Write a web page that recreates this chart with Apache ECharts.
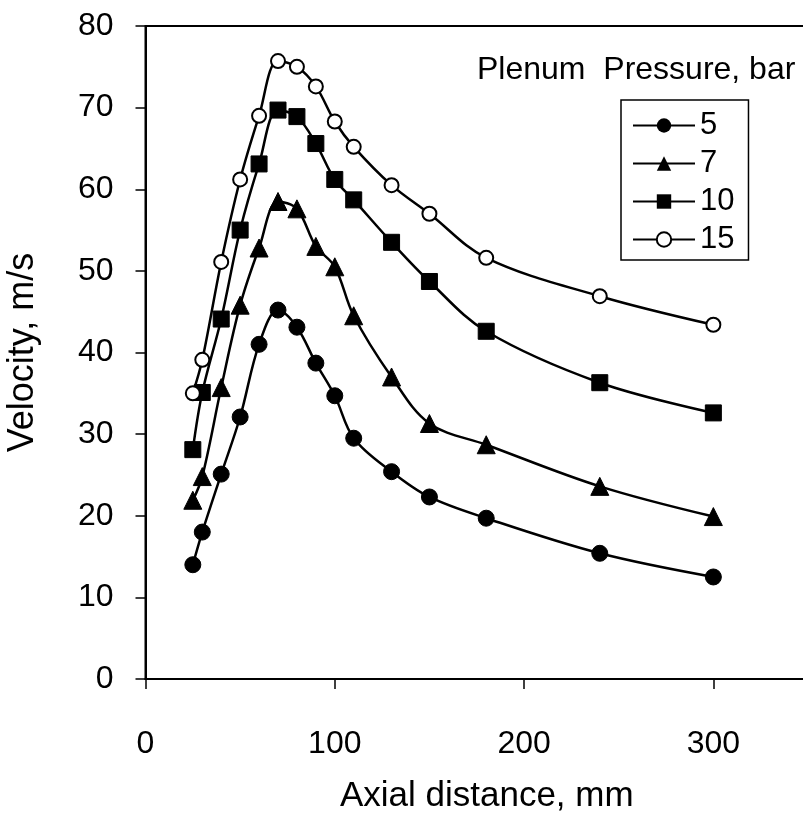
<!DOCTYPE html>
<html>
<head>
<meta charset="utf-8">
<script src="https://cdn.jsdelivr.net/npm/echarts@6/dist/echarts.min.js"></script>
<style>html,body{margin:0;padding:0;background:#fff;}#c{width:803px;height:814px;}</style>
</head>
<body>
<div id="c"></div>
<script>
const xDist = [25, 30, 40, 50, 60, 70, 80, 90, 100, 110, 130, 150, 180, 240, 300];
const v5  = [14.0, 18.0, 25.1, 32.1, 41.0, 45.2, 43.1, 38.7, 34.7, 29.5, 25.4, 22.3, 19.7, 15.4, 12.5];
const v7  = [21.9, 24.8, 35.7, 45.8, 52.8, 58.5, 57.6, 53.0, 50.5, 44.5, 37.0, 31.3, 28.7, 23.6, 19.9];
const v10 = [28.1, 35.1, 44.1, 55.0, 63.1, 69.7, 68.9, 65.6, 61.2, 58.7, 53.5, 48.7, 42.6, 36.3, 32.6];
const v15 = [35.0, 39.1, 51.1, 61.2, 69.0, 75.7, 75.0, 72.6, 68.3, 65.2, 60.5, 57.0, 51.6, 46.9, 43.4];
const seriesNames = ['5', '7', '10', '15'];
const xTicks = [0, 100, 200, 300];
const yTicks = [0, 10, 20, 30, 40, 50, 60, 70, 80];

const FONT = 'Liberation Sans, Arial, sans-serif';
const chart = echarts.init(document.getElementById('c'), null, {renderer: 'canvas'});

function mk(name, vals, symbol, size, extra) {
  return Object.assign({
    name: name,
    type: 'line',
    data: xDist.map((x, i) => [x, vals[i]]),
    smooth: 0.35,
    symbol: symbol,
    symbolSize: size,
    showAllSymbol: true,
    lineStyle: {color: '#000', width: 2.5},
    itemStyle: {color: '#000', borderColor: '#000'},
    emphasis: {disabled: true},
    z: 3
  }, extra || {});
}

chart.setOption({
  animation: false,
  backgroundColor: '#fff',
  title: {
    text: 'Plenum  Pressure, bar',
    left: 472, top: 49,
    textStyle: {fontFamily: FONT, fontSize: 32, fontWeight: 'normal', color: '#000'}
  },
  grid: {
    left: 145.5, top: 26, width: 662.5, height: 653,
    outerBoundsMode: 'none', containLabel: false,
    show: true, borderColor: '#000', borderWidth: 2, backgroundColor: 'transparent'
  },
  legend: {
    orient: 'vertical',
    left: 621, top: 100,
    padding: [10, 14, 5, 11],
    itemWidth: 62, itemHeight: 18, itemGap: 7,
    borderColor: '#000', borderWidth: 1.5,
    textStyle: {fontFamily: FONT, fontSize: 31, color: '#000', lineHeight: 30, padding: [0, 0, 0, 0]},
    data: seriesNames
  },
  xAxis: {
    type: 'value', min: 0, max: 350, interval: 100,
    name: 'Axial distance, mm', nameLocation: 'middle', nameGap: 100,
    nameTextStyle: {fontFamily: FONT, fontSize: 35, color: '#000', padding: [0, 0, 0, 20]},
    axisLine: {show: true, onZero: false, lineStyle: {color: '#000', width: 2}},
    axisTick: {show: true, inside: false, length: 10, lineStyle: {color: '#000', width: 1.5}},
    axisLabel: {
      margin: 49, fontFamily: FONT, fontSize: 32, color: '#000',
      showMaxLabel: false,
      formatter: v => (xTicks.indexOf(v) >= 0 ? String(v) : '')
    },
    splitLine: {show: false}
  },
  yAxis: {
    type: 'value', min: 0, max: 80, interval: 10,
    name: 'Velocity, m/s', nameLocation: 'middle', nameGap: 104,
    nameTextStyle: {fontFamily: FONT, fontSize: 36, color: '#000'},
    axisLine: {show: true, onZero: false, lineStyle: {color: '#000', width: 2}},
    axisTick: {show: true, inside: false, length: 10, lineStyle: {color: '#000', width: 1.5}},
    axisLabel: {
      margin: 32, fontFamily: FONT, fontSize: 32, color: '#000',
      formatter: v => (yTicks.indexOf(v) >= 0 ? String(v) : '')
    },
    splitLine: {show: false}
  },
  series: [
    mk(seriesNames[0], v5, 'circle', 16),
    mk(seriesNames[1], v7, 'triangle', 18),
    mk(seriesNames[2], v10, 'rect', 16),
    mk(seriesNames[3], v15, 'emptyCircle', 14, {itemStyle: {color: '#000', borderColor: '#000', borderWidth: 2}})
  ]
});
</script>
</body>
</html>
